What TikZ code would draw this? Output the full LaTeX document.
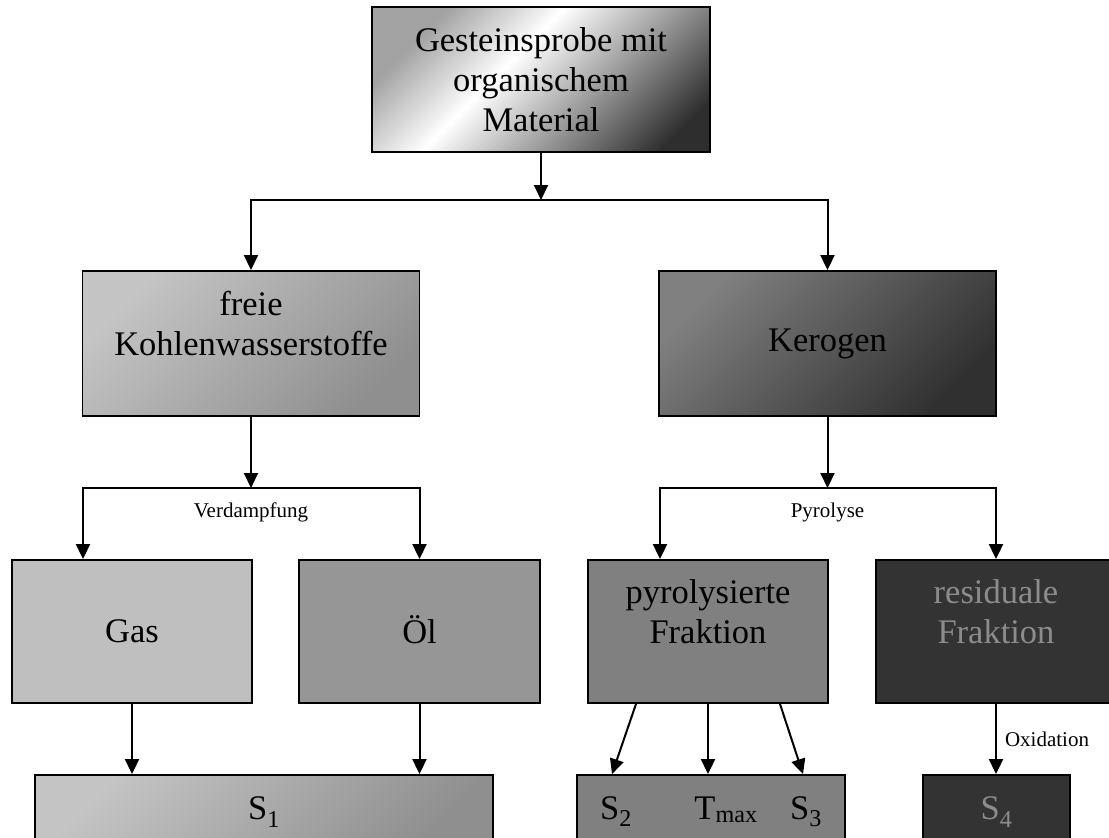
\documentclass[tikz,border=0pt]{standalone}
\usepackage{fontspec}
\setmainfont{Liberation Serif}
\usetikzlibrary{arrows.meta}
\pgfdeclareverticalshading{probeshade}{100bp}{color(0bp)=(black!82); color(22bp)=(black!82); color(57bp)=(white); color(74bp)=(black!36); color(100bp)=(black!36)}

\begin{document}
\begin{tikzpicture}[x=1pt,y=-1pt]
% Colors
\colorlet{gascolor}{black!25}
\colorlet{oilcolor}{black!41}
\colorlet{pyrcolor}{black!50}
\colorlet{rescolor}{black!80}
\colorlet{restextcolor}{black!45}
% Styles
\tikzstyle{big text}=[inner sep=0pt,align=center,font=\fontsize{34.5}{40}\selectfont]
\tikzstyle{box}=[big text,draw,line width=1.9pt]
\tikzstyle{big box}=[box,minimum width=337pt,minimum height=145pt]
\tikzstyle{mid box}=[box,minimum width=240pt,minimum height=143pt]
\tikzstyle{free shade}=[top color=black!23,bottom color=black!44,shading angle=45]
\tikzstyle{kero shade}=[top color=black!50,bottom color=black!81,shading angle=45]
\tikzstyle{flow line}=[line width=2pt,-{Triangle[length=15pt,width=14pt]}]
\tikzstyle{small text}=[font=\fontsize{21}{25}\selectfont,inner sep=2pt]
% The graphic
\useasboundingbox (0,0) rectangle (1109,838);
\clip (0,0) rectangle (1109,838);
\node[big box,shade,shading=probeshade,shading angle=45,minimum width=338pt] (probe) at (541,79.5)
  {Gesteinsprobe mit\\organischem\\Material};
\node[big box,free shade] (freie) at (251,343.5) {freie\\Kohlenwasserstoffe\\\mbox{}};
\node[big box,kero shade] (kerogen) at (827.5,343.5) {Kerogen};
\node[mid box,fill=gascolor] (gas) at (132,631.5) {Gas};
\node[mid box,fill=oilcolor,minimum width=241pt,text height=23.5pt] (oel) at (419.5,631.5) {Öl};
\node[mid box,fill=pyrcolor] (pyro) at (708,631.5) {pyrolysierte\\Fraktion\\\mbox{}};
\node[mid box,fill=rescolor,text=restextcolor] (resid) at (996,631.5) {residuale\\Fraktion\\\mbox{}};
\node[box,free shade,minimum width=458pt,minimum height=74pt] (sone) at (264,812) {S\textsubscript{1}};
\node[box,fill=pyrcolor,minimum width=268pt,minimum height=74pt] (sfrac) at (711,812) {};
\node[box,fill=rescolor,text=restextcolor,minimum width=147pt,minimum height=74pt] (sfour) at (996.5,812) {S\textsubscript{4}};
\node[big text,anchor=base] (stwo) at (616,819) {S\textsubscript{2}};
\node[big text,anchor=base] (tmax) at (726,819) {T\textsubscript{max}};
\node[big text,anchor=base] (sthree) at (806,819) {S\textsubscript{3}};
% split points
\coordinate (split) at (541,200);
\coordinate (vsplit) at (251,488);
\coordinate (gasin) at (83,488);
\coordinate (psplit) at (827.5,488);
\coordinate (pyrin) at (660,488);
\coordinate (resin) at (996,488);
% Connectors
\draw[flow line] (probe.south) -- (split);
\draw[flow line] (split) -| (freie.north);
\draw[flow line] (split) -| (kerogen.north);
\draw[flow line] (freie.south) -- (vsplit);
\draw[flow line] (vsplit) -- (gasin) -- (gasin |- gas.north);
\draw[flow line] (vsplit) -| (oel.north);
\node[small text] (verd) at (251,512) {Verdampfung};
\draw[flow line] (gas.south) -- (gas.south |- sone.north);
\draw[flow line] (oel.south) -- (oel.south |- sone.north);
\draw[flow line] (kerogen.south) -- (psplit);
\draw[flow line] (psplit) -- (pyrin) -- (pyrin |- pyro.north);
\draw[flow line] (psplit) -- (resin) -- (resin |- resid.north);
\node[small text] (pyrol) at (827.5,512) {Pyrolyse};
\draw[flow line] ([xshift=-72pt]pyro.south) -- ([xshift=-96pt]pyro.south |- sfrac.north);
\draw[flow line] (pyro.south) -- (pyro.south |- sfrac.north);
\draw[flow line] ([xshift=72pt]pyro.south) -- ([xshift=95pt]pyro.south |- sfrac.north);
\draw[flow line] (resin |- resid.south) -- node[small text,right=6pt] (oxid) {Oxidation} (resin |- sfour.north);
\end{tikzpicture}
\end{document}
